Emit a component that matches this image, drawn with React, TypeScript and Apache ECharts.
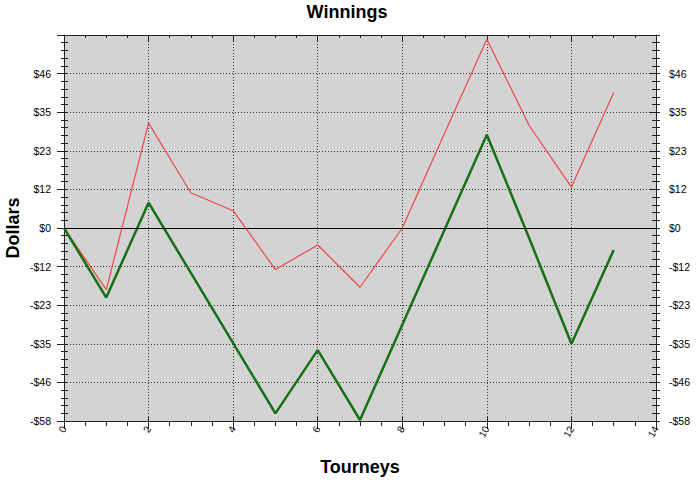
import React, { useEffect, useRef } from "react";
import * as echarts from "echarts";

const tourneys = [0, 1, 2, 3, 4, 5, 6, 7, 8, 9, 10, 11, 12, 13];
const greenValues = [0, -20.9, 7.6, -13.5, -34.6, -55.7, -36.7, -57.7, -29.1, -0.5, 28.0, -3.0, -34.8, -6.6];
const redValues = [0, -18.5, 31.5, 10.6, 5.2, -12.5, -5.1, -17.8, 0, 28.5, 56.7, 30.8, 12.3, 40.7];
const yMin = -58;
const yMax = 58;
const yStep = 11.6;
const xMin = 0;
const xMax = 14;
const xStep = 2;

const FONT = "'Liberation Sans', Arial, sans-serif";

const fmtDollar = (v: number) => {
  const r = Math.round(Math.abs(v));
  if (r === 0) return "$0";
  return (v < 0 ? "-" : "") + "$" + r;
};

export default function App() {
  const ref = useRef<HTMLDivElement>(null);
  useEffect(() => {
    if (!ref.current) return;
    const chart = echarts.init(ref.current, null, { renderer: "svg" });
    const axisLineStyle = { color: "#222", width: 1 };
    const baseX = {
      type: "value" as const,
      min: xMin,
      max: xMax,
      interval: xStep,
    };
    const baseY = {
      type: "value" as const,
      min: yMin,
      max: yMax,
      interval: yStep,
    };
    const gridDash = { color: "#333", width: 1, type: [1, 2] };
    chart.setOption({
      animation: false,
      backgroundColor: "#ffffff",
      grid: {
        left: 64,
        right: 44,
        top: 35,
        bottom: 62,
        show: true,
        backgroundColor: "#d3d3d3",
        borderWidth: 0,
      },
      graphic: [
        {
          type: "text",
          x: 347,
          y: 12,
          style: {
            text: "Winnings",
            font: `bold 18px ${FONT}`,
            fill: "#000",
            textAlign: "center",
            textVerticalAlign: "middle",
          },
        },
        {
          type: "text",
          x: 13,
          y: 228,
          rotation: Math.PI / 2,
          style: {
            text: "Dollars",
            font: `bold 18px ${FONT}`,
            fill: "#000",
            textAlign: "center",
            textVerticalAlign: "middle",
          },
        },
        {
          type: "text",
          x: 360,
          y: 467,
          style: {
            text: "Tourneys",
            font: `bold 18px ${FONT}`,
            fill: "#000",
            textAlign: "center",
            textVerticalAlign: "middle",
          },
        },
      ],
      xAxis: [
        {
          ...baseX,
          position: "bottom",
          axisLine: { show: true, onZero: false, lineStyle: axisLineStyle },
          axisTick: { show: true, inside: false, length: 8, lineStyle: axisLineStyle },
          minorTick: { show: true, splitNumber: 4, length: 5, lineStyle: axisLineStyle },
          axisLabel: {
            show: true,
            rotate: 60,
            margin: 6,
            fontSize: 10,
            fontFamily: FONT,
            color: "#000",
            showMaxLabel: true,
            showMinLabel: true,
          },
          splitLine: { show: true, lineStyle: gridDash },
          minorSplitLine: { show: false },
        },
        {
          ...baseX,
          position: "bottom",
          axisLine: { show: false, onZero: false },
          axisTick: { show: true, inside: true, length: 4, lineStyle: axisLineStyle },
          minorTick: { show: false },
          axisLabel: { show: false },
          splitLine: { show: false },
        },
        {
          ...baseX,
          position: "top",
          axisLine: { show: true, onZero: false, lineStyle: axisLineStyle },
          axisTick: { show: true, inside: true, length: 6, lineStyle: axisLineStyle },
          minorTick: { show: true, splitNumber: 4, length: 3, lineStyle: axisLineStyle },
          axisLabel: { show: false },
          splitLine: { show: false },
        },
      ],
      yAxis: [
        {
          ...baseY,
          position: "left",
          axisLine: { show: true, onZero: false, lineStyle: axisLineStyle },
          axisTick: { show: true, inside: false, length: 7, lineStyle: axisLineStyle },
          minorTick: { show: true, splitNumber: 5, length: 3, lineStyle: axisLineStyle },
          axisLabel: {
            show: true,
            margin: 13,
            fontSize: 10.5,
            fontFamily: FONT,
            color: "#000",
            showMaxLabel: false,
            formatter: fmtDollar,
          },
          splitLine: { show: true, lineStyle: gridDash },
        },
        {
          ...baseY,
          position: "left",
          axisLine: { show: false, onZero: false },
          axisTick: { show: true, inside: true, length: 4, lineStyle: axisLineStyle },
          minorTick: { show: true, splitNumber: 5, length: 4, lineStyle: axisLineStyle },
          axisLabel: { show: false },
          splitLine: { show: false },
        },
        {
          ...baseY,
          position: "right",
          axisLine: { show: true, onZero: false, lineStyle: axisLineStyle },
          axisTick: { show: true, inside: false, length: 4, lineStyle: axisLineStyle },
          minorTick: { show: true, splitNumber: 5, length: 4, lineStyle: axisLineStyle },
          axisLabel: {
            show: true,
            margin: 13,
            fontSize: 10.5,
            fontFamily: FONT,
            color: "#000",
            showMaxLabel: false,
            formatter: fmtDollar,
          },
          splitLine: { show: false },
        },
        {
          ...baseY,
          position: "right",
          axisLine: { show: false, onZero: false },
          axisTick: { show: true, inside: true, length: 7, lineStyle: axisLineStyle },
          minorTick: { show: true, splitNumber: 5, length: 4, lineStyle: axisLineStyle },
          axisLabel: { show: false },
          splitLine: { show: false },
        },
      ],
      series: [
        {
          name: "Red",
          type: "line",
          xAxisIndex: 0,
          yAxisIndex: 0,
          data: tourneys.map((t, i) => [t, redValues[i]]),
          showSymbol: false,
          symbol: "none",
          lineStyle: { color: "#f04646", width: 1.2 },
          z: 3,
          markLine: {
            silent: true,
            symbol: "none",
            label: { show: false },
            lineStyle: { color: "#000", width: 1, type: "solid" },
            data: [{ yAxis: 0 }],
          },
        },
        {
          name: "Green",
          type: "line",
          xAxisIndex: 0,
          yAxisIndex: 0,
          data: tourneys.map((t, i) => [t, greenValues[i]]),
          showSymbol: false,
          symbol: "none",
          lineStyle: { color: "#167016", width: 2.5 },
          z: 4,
        },
      ],
    });
    return () => chart.dispose();
  }, []);
  return (
    <div
      ref={ref}
      style={{ position: "fixed", left: 0, top: 0, width: 700, height: 483, background: "#fff" }}
    />
  );
}
